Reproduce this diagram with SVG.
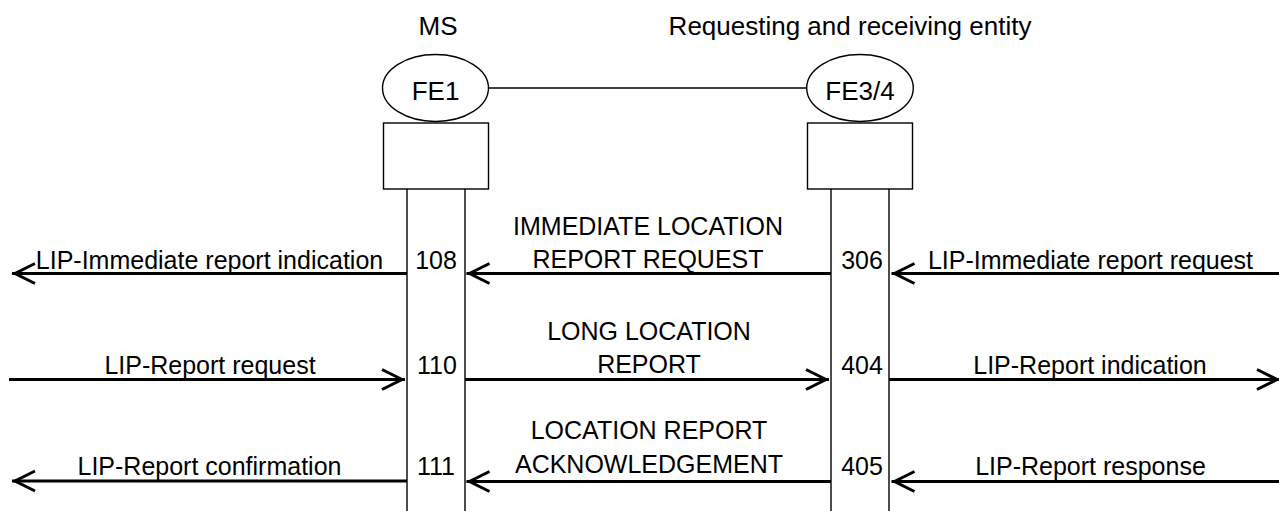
<svg xmlns="http://www.w3.org/2000/svg" width="1279" height="511" viewBox="0 0 1279 511">
<style>
text{font-family:"Liberation Sans",Arial,sans-serif;fill:#000}
.h{font-size:26px;text-anchor:middle}
.fe{font-size:26px;text-anchor:middle}
.l{font-size:25px;text-anchor:middle}
.thin{stroke:#000;stroke-width:1.4;fill:none}
.msg{stroke:#000;stroke-width:3;fill:none;marker-end:url(#ah)}
</style>
<defs>
<marker id="ah" markerUnits="userSpaceOnUse" markerWidth="30" markerHeight="30" viewBox="-28 -15 30 30" refX="0" refY="0" orient="auto" overflow="visible">
<path d="M-23,-10 L-3,0 L-23,10" fill="none" stroke="#000" stroke-width="3" stroke-linejoin="miter"/>
</marker>
</defs>
<rect width="1279" height="511" fill="#fff"/>
<text class="h" x="438" y="35">MS</text>
<text class="h" x="850" y="35">Requesting and receiving entity</text>
<g id="connectors">
<line class="thin" x1="488.5" y1="88" x2="806.5" y2="88"/>
<line class="msg" x1="407" y1="273.5" x2="12" y2="273.5"/>
<line class="msg" x1="831" y1="273.5" x2="466.5" y2="273.5"/>
<line class="msg" x1="1279" y1="273.5" x2="891.5" y2="273.5"/>
<line class="msg" x1="9" y1="379.5" x2="405" y2="379.5"/>
<line class="msg" x1="465" y1="379.5" x2="829" y2="379.5"/>
<line class="msg" x1="889" y1="379.5" x2="1280" y2="379.5"/>
<line class="msg" x1="407" y1="481" x2="12" y2="481"/>
<line class="msg" x1="831" y1="481.5" x2="466.5" y2="481.5"/>
<line class="msg" x1="1279" y1="481.5" x2="891.5" y2="481.5"/>
</g>
<g id="fe1">
<ellipse class="thin" cx="435.5" cy="88" rx="53" ry="33.5"/>
<text class="fe" x="435.5" y="100">FE1</text>
<rect class="thin" x="383.5" y="123" width="105" height="66"/>
<line class="thin" x1="407" y1="189" x2="407" y2="511"/>
<line class="thin" x1="465" y1="189" x2="465" y2="511"/>
</g>
<g id="fe34">
<ellipse class="thin" cx="860" cy="88" rx="53.3" ry="33.5"/>
<text class="fe" x="860" y="100">FE3/4</text>
<rect class="thin" x="807.5" y="123" width="105" height="66"/>
<line class="thin" x1="831" y1="189" x2="831" y2="511"/>
<line class="thin" x1="889" y1="189" x2="889" y2="511"/>
</g>
<g id="labels">
<text class="l" x="209.5" y="269">LIP-Immediate report indication</text>
<text class="l" x="436" y="269">108</text>
<text class="l" x="648" y="235">IMMEDIATE LOCATION</text>
<text class="l" x="648" y="268">REPORT REQUEST</text>
<text class="l" x="862" y="269">306</text>
<text class="l" x="1090.5" y="269">LIP-Immediate report request</text>
<text class="l" x="210" y="373.5">LIP-Report request</text>
<text class="l" x="437" y="373.5">110</text>
<text class="l" x="649" y="339.5">LONG LOCATION</text>
<text class="l" x="649" y="373">REPORT</text>
<text class="l" x="862" y="373.5">404</text>
<text class="l" x="1090" y="373.5">LIP-Report indication</text>
<text class="l" x="209.5" y="475">LIP-Report confirmation</text>
<text class="l" x="436" y="475">111</text>
<text class="l" x="649" y="438.5">LOCATION REPORT</text>
<text class="l" x="649" y="473">ACKNOWLEDGEMENT</text>
<text class="l" x="862" y="475">405</text>
<text class="l" x="1090.5" y="475">LIP-Report response</text>
</g>
</svg>
